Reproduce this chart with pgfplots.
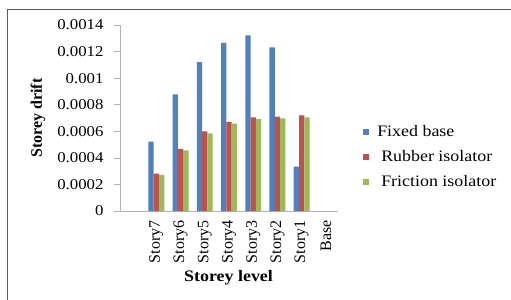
\documentclass[border=0pt]{standalone}
\usepackage{fontspec}
\setmainfont{Liberation Serif}[FakeStretch=1.12]
\newfontfamily\rotfont{Liberation Serif}
\usepackage{pgfplots}
\usepackage{pgfplotstable}
\pgfplotsset{compat=1.18}
\definecolor{cblue}{HTML}{4F81BD}
\definecolor{cred}{HTML}{C0504D}
\definecolor{cgreen}{HTML}{9BBB59}
\pgfplotstableread{
x fixed rubber friction
1 0.000522 0.000281 0.000271
2 0.000878 0.000467 0.000457
3 0.001121 0.000600 0.000585
4 0.001265 0.000670 0.000657
5 0.001322 0.000705 0.000692
6 0.001232 0.000710 0.000698
7 0.000334 0.000720 0.000705
}\drift
\begin{document}
\begin{tikzpicture}
\useasboundingbox (0,0) rectangle (511bp,300bp);
\fill[white] (0,0) rectangle (511bp,300bp);
\draw[gray!70!black, line width=0.8bp] (7.5bp,-5bp) -- (7.5bp,290.5bp) -- (520bp,290.5bp);
\begin{axis}[
  width=218bp, height=186bp, scale only axis,
  at={(120bp,89bp)}, anchor=south west,
  xmin=-0.5, xmax=8.5, ymin=0, ymax=0.0014,
  enlargelimits=false, clip=false,
  ybar=0pt, bar width=5.3bp,
  separate axis lines,
  axis x line*=bottom, axis y line*=left,
  axis line style={draw=gray!60, line width=0.7bp},
  xtick={1,2,3,4,5,6,7,8},
  xticklabels={Story7,Story6,Story5,Story4,Story3,Story2,Story1,Base},
  major x tick style={draw=none},
  ytick={0,0.0002,0.0004,0.0006,0.0008,0.001,0.0012,0.0014},
  scaled y ticks=false,
  yticklabel style={font=\fontsize{15bp}{18bp}\selectfont, xshift=-7bp,
    /pgf/number format/fixed, /pgf/number format/precision=4,
    /pgf/number format/assume math mode=true},
  tick align=outside, major tick length=6bp,
  y tick style={draw=gray!60, line width=0.7bp},
  xticklabel style={font=\rotfont\fontsize{16bp}{19bp}\selectfont, rotate=90, anchor=east},
  ylabel={Storey drift},
  ylabel style={font=\rotfont\bfseries\fontsize{16bp}{19bp}\selectfont, at={(axis description cs:-0.376,0.5)}, anchor=center},
  xlabel={Storey level},
  xlabel style={font=\bfseries\fontsize{16bp}{19bp}\selectfont, at={(axis description cs:0.498,-0.36)}, anchor=center},
  legend cell align=left,
  legend image code/.code={\fill[#1] (0bp,-2.7bp) rectangle (5.5bp,2.7bp);},
  legend style={draw=none, fill=none, inner sep=0pt,
    at={(axis description cs:1.115,0.29)}, anchor=west,
    font=\fontsize{16bp}{19bp}\selectfont,
    row sep=11bp, column sep=8.5bp,
    nodes={inner sep=0pt, text height=11bp, text depth=3bp}},
]
\addplot[fill=cblue, draw=none] table[x=x, y=fixed] {\drift};
\addplot[fill=cred, draw=none] table[x=x, y=rubber] {\drift};
\addplot[fill=cgreen, draw=none] table[x=x, y=friction] {\drift};
\legend{Fixed base,\hspace{4bp}Rubber isolator,\hspace{4bp}Friction isolator}
\end{axis}
\end{tikzpicture}
\end{document}
